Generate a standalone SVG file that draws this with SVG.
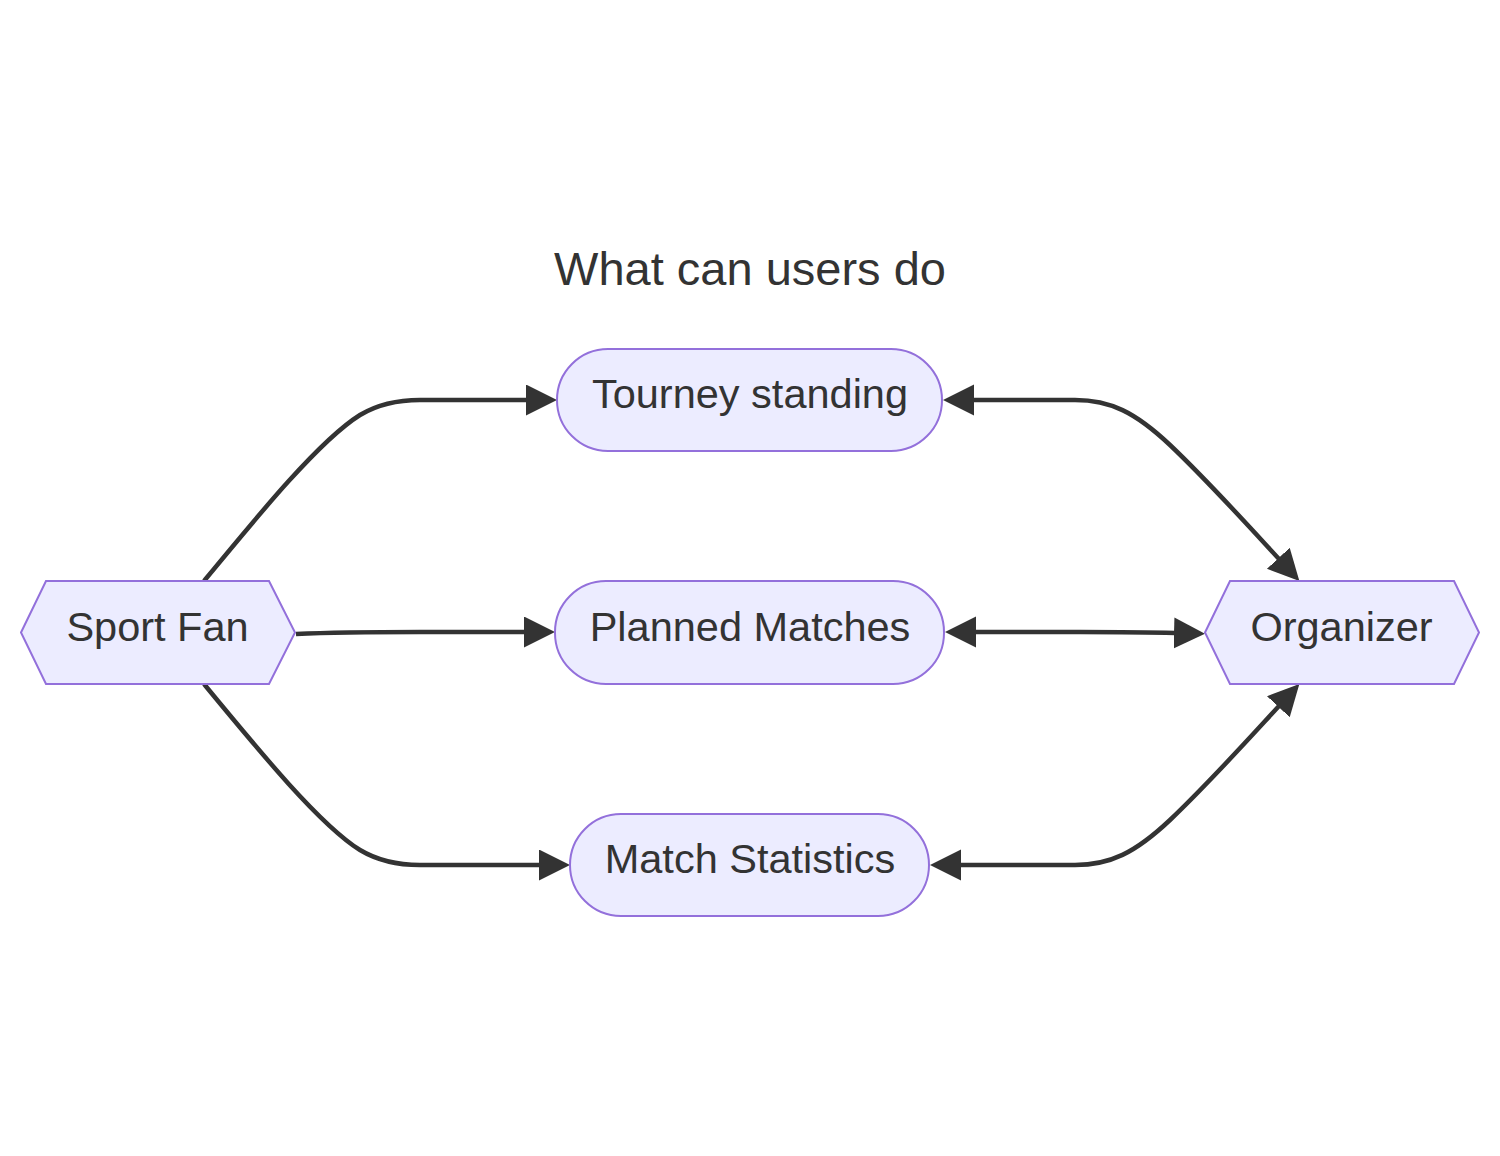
<svg xmlns="http://www.w3.org/2000/svg" width="1500" height="1156" viewBox="0 0 1500 1156">
<style>
.node path,.node rect,.node polygon{fill:#ECECFF;stroke:#9370DB;stroke-width:2}
.node text,.title{fill:#333;font-family:"Liberation Sans",Arial,sans-serif;text-anchor:middle}
.node text{font-size:41.5px}
.title{font-size:47px}
.edge{fill:none;stroke:#333;stroke-width:4.5}
</style>
<defs>
<marker id="arr" markerUnits="userSpaceOnUse" markerWidth="32" markerHeight="32" viewBox="0 0 32 32" refX="1" refY="15.5" orient="auto-start-reverse">
<path d="M0,0 L31,15.5 L0,31 z" fill="#333"/>
</marker>
</defs>
<rect width="1500" height="1156" fill="#fff"/>
<text class="title" x="750" y="285">What can users do</text>
<g id="edges">
<path class="edge" d="M204,581 C260,513 320,440 360,415 Q385,400 420,400 L527,400" marker-end="url(#arr)"/>
<path class="edge" d="M296,634 Q340,632 420,632 L525,632" marker-end="url(#arr)"/>
<path class="edge" d="M204,684 C260,752 320,825 360,850 Q385,865 420,865 L540,865" marker-end="url(#arr)"/>
<path class="edge" d="M973,400 L1075,400 C1110,400 1135,412 1170,445 C1210,483 1254,532 1279,559" marker-start="url(#arr)" marker-end="url(#arr)"/>
<path class="edge" d="M975,632 L1080,632 Q1140,632 1175,633" marker-start="url(#arr)" marker-end="url(#arr)"/>
<path class="edge" d="M960,865 L1075,865 C1110,865 1135,853 1170,820 C1210,782 1254,733 1279,706" marker-start="url(#arr)" marker-end="url(#arr)"/>
</g>
<g id="sportfan" class="node">
<polygon points="21,632.5 46,581 269,581 295,632.5 269,684 46,684"/>
<text x="157.5" y="641">Sport Fan</text>
</g>
<g id="tourney" class="node">
<rect x="557" y="349" width="385" height="102" rx="51" ry="51"/>
<text x="750" y="408">Tourney standing</text>
</g>
<g id="planned" class="node">
<rect x="555" y="581" width="389" height="103" rx="51" ry="51"/>
<text x="750" y="641">Planned Matches</text>
</g>
<g id="matchstats" class="node">
<rect x="570" y="814" width="359" height="102" rx="51" ry="51"/>
<text x="750" y="873">Match Statistics</text>
</g>
<g id="organizer" class="node">
<polygon points="1205,632.5 1230,581 1454,581 1479,632.5 1454,684 1230,684"/>
<text x="1341.5" y="641">Organizer</text>
</g>
</svg>
